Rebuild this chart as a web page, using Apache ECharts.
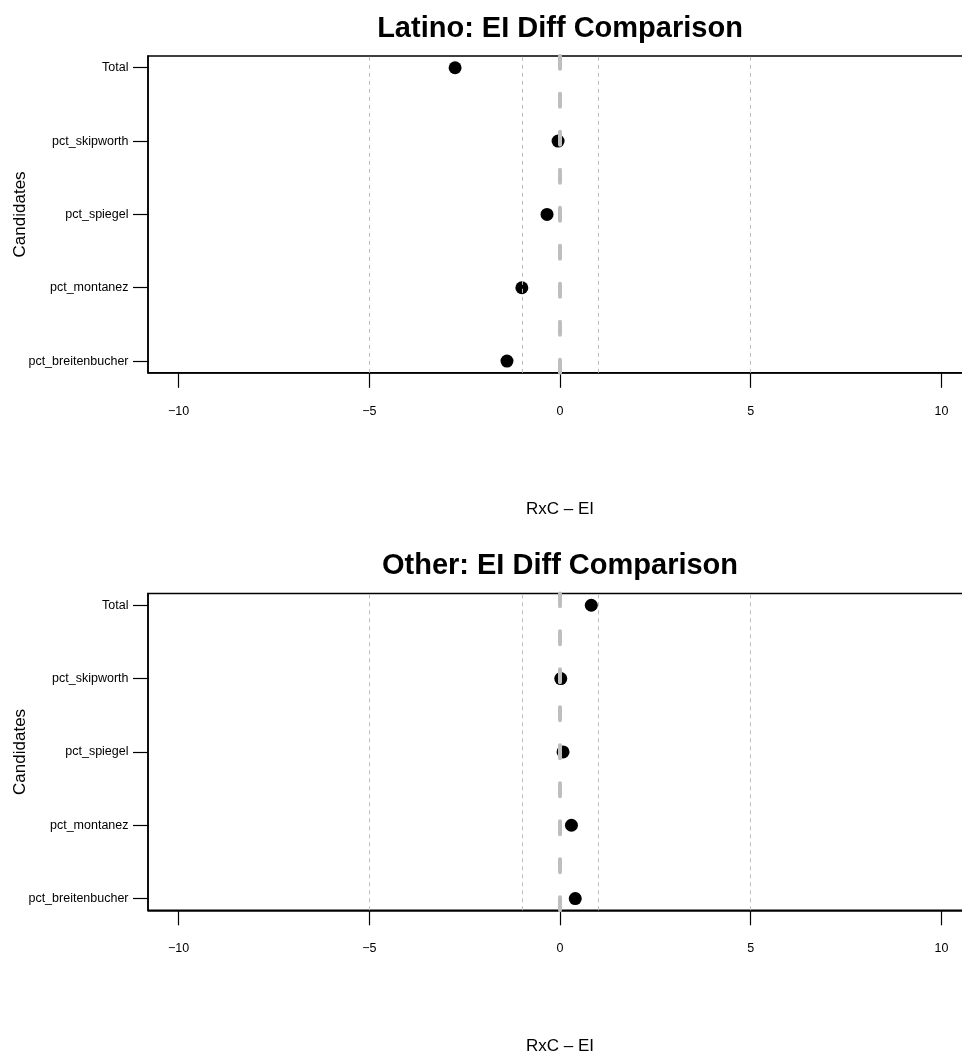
<!DOCTYPE html>
<html>
<head>
<meta charset="utf-8">
<script src="https://cdn.jsdelivr.net/npm/echarts@6/dist/echarts.min.js"></script>
<style>
html,body{margin:0;padding:0;background:#fff;}
#chart{width:962px;height:1053px;}
</style>
</head>
<body>
<div id="chart"></div>
<script>
// Data (top-to-bottom order as drawn)
const categories = ['Total', 'pct_skipworth', 'pct_spiegel', 'pct_montanez', 'pct_breitenbucher'];
const latinoDiff = [-2.75, -0.05, -0.34, -1.0, -1.39];
const otherDiff = [0.82, 0.02, 0.08, 0.30, 0.40];
const panelTitles = ['Latino: EI Diff Comparison', 'Other: EI Diff Comparison'];
const xTicks = [-10, -5, 0, 5, 10];
const thinRefLines = [-5, -1, 1, 5];
const zeroLine = 0;
const xLabel = 'RxC \u2013 EI';
const yLabel = 'Candidates';

const n = categories.length;
const yTicks = categories.map((c, i) => n - i);
const FONT = '"Liberation Sans", Arial, Helvetica, sans-serif';

const panels = [latinoDiff, otherDiff];
const gridTops = [56, 593.5];
const gridH = 316.8;

const chart = echarts.init(document.getElementById('chart'), null, {renderer: 'canvas'});

const grids = [], xAxes = [], yAxes = [], series = [], titles = [];
panels.forEach((vals, k) => {
  grids.push({
    left: 148, top: gridTops[k], width: 824, height: gridH,
    show: true, borderColor: '#000', borderWidth: 1.5, backgroundColor: 'transparent',
    containLabel: false, outerBoundsMode: 'none'
  });
  titles.push({
    text: panelTitles[k], left: 560, top: gridTops[k] - 42, textAlign: 'center', padding: 0,
    textStyle: {fontFamily: FONT, fontWeight: 'bold', fontSize: 29, color: '#000'}
  });
  xAxes.push({
    gridIndex: k, type: 'value', min: -10.8, max: 10.8,
    axisLine: {show: true, onZero: false, lineStyle: {color: '#000', width: 1.5}},
    axisTick: {show: true, customValues: xTicks, length: 15, lineStyle: {color: '#000', width: 1.2}},
    axisLabel: {
      customValues: xTicks, margin: 32, fontFamily: FONT, fontSize: 12.5, color: '#000',
      formatter: v => v < 0 ? '\u2212' + Math.abs(v) : String(v)
    },
    splitLine: {show: false},
    name: xLabel, nameLocation: 'middle', nameGap: 128, nameMoveOverlap: false,
    nameTextStyle: {fontFamily: FONT, fontSize: 17, color: '#000'}
  });
  yAxes.push({
    gridIndex: k, type: 'value', min: 0.84, max: n + 0.16,
    axisLine: {show: true, onZero: false, lineStyle: {color: '#000', width: 1.5}},
    axisTick: {show: true, customValues: yTicks, length: 15, lineStyle: {color: '#000', width: 1.2}},
    axisLabel: {
      customValues: yTicks, margin: 19.5, fontFamily: FONT, fontSize: 12.5, color: '#000',
      formatter: v => categories[n - v]
    },
    splitLine: {show: false},
    name: yLabel, nameLocation: 'middle', nameGap: 119, nameRotate: 90, nameMoveOverlap: false,
    nameTextStyle: {fontFamily: FONT, fontSize: 17, color: '#000'}
  });
  // thin dashed reference lines (below points)
  series.push({
    type: 'line', xAxisIndex: k, yAxisIndex: k, data: [], z: 1, silent: true,
    markLine: {
      symbol: 'none', silent: true, label: {show: false},
      lineStyle: {color: '#bebebe', width: 1, type: [4, 4]},
      data: thinRefLines.map(v => ({xAxis: v}))
    }
  });
  // points
  series.push({
    type: 'scatter', xAxisIndex: k, yAxisIndex: k, z: 3,
    symbol: 'circle', symbolSize: 13,
    itemStyle: {color: '#000', opacity: 1},
    data: vals.map((v, i) => [v, n - i])
  });
  // thick dashed zero line (above points)
  series.push({
    type: 'line', xAxisIndex: k, yAxisIndex: k, data: [], z: 5, silent: true,
    markLine: {
      symbol: 'none', silent: true, label: {show: false}, z: 5,
      lineStyle: {color: '#bebebe', width: 4, type: [13, 25], cap: 'round', opacity: 1},
      data: [{xAxis: zeroLine}]
    }
  });
});

chart.setOption({
  animation: false,
  backgroundColor: '#fff',
  title: titles,
  grid: grids,
  xAxis: xAxes,
  yAxis: yAxes,
  series: series
});
</script>
</body>
</html>
